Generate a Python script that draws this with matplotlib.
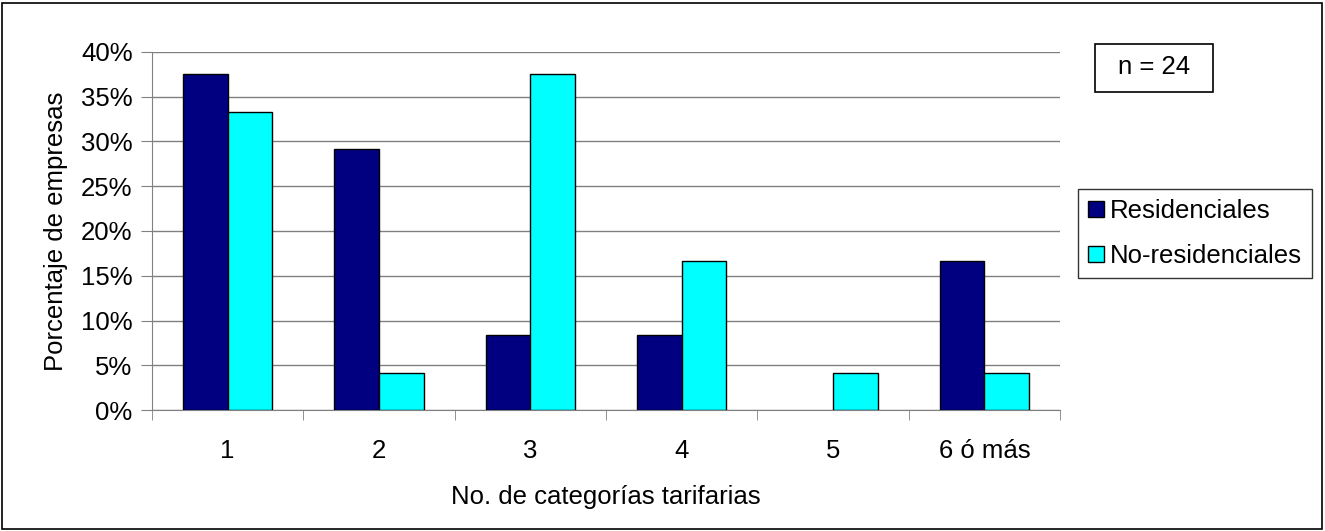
import matplotlib
matplotlib.use("Agg")
import matplotlib.pyplot as plt
from matplotlib.patches import Rectangle
import numpy as np

plt.rcParams['font.family'] = ['Liberation Sans', 'DejaVu Sans']

categories = ["1", "2", "3", "4", "5", "6 ó más"]
residenciales = [37.5, 29.17, 8.33, 8.33, 0.0, 16.67]
no_residenciales = [33.33, 4.17, 37.5, 16.67, 4.17, 4.17]
series_names = ["Residenciales", "No-residenciales"]
yticks = [0, 5, 10, 15, 20, 25, 30, 35, 40]

FS = 18.5
W, H = 1325, 531
fig = plt.figure(figsize=(W/100, H/100), dpi=100)
ax = fig.add_axes([152/W, 1-410/H, (1060-152)/W, (410-52)/H])

x = np.arange(len(categories))
bw = 0.295
b1 = ax.bar(x - bw/2, residenciales, bw, color="#000080", edgecolor="black", linewidth=1, label=series_names[0], zorder=3)
b2 = ax.bar(x + bw/2, no_residenciales, bw, color="#00FFFF", edgecolor="black", linewidth=1, label=series_names[1], zorder=3)
for bars in (b1, b2):
    for r in bars:
        if r.get_height() == 0:
            r.set_linewidth(0)

ax.set_xlim(-0.5, len(categories) - 0.5)
ax.set_ylim(0, 40)
ax.set_yticks(yticks)
ax.set_yticklabels([f"{v}%" for v in yticks], fontsize=FS)
ax.yaxis.grid(True, color="#808080", linewidth=1, zorder=0)
ax.set_xticks(x)
ax.set_xticklabels(categories, fontsize=FS)
ax.set_xticks(np.arange(-0.5, len(categories)), minor=True)
ax.tick_params(axis='x', which='major', length=0, pad=21)
ax.tick_params(axis='x', which='minor', length=7, color="#808080", direction='out')
ax.tick_params(axis='y', length=8, color="#808080", direction='out', pad=6)
for s in ["top", "right"]:
    ax.spines[s].set_visible(False)
for s in ["left", "bottom"]:
    ax.spines[s].set_color("#808080")

ax.set_ylabel("Porcentaje de empresas", fontsize=FS, labelpad=9)
ax.set_xlabel("No. de categorías tarifarias", fontsize=FS, labelpad=16)

leg = ax.legend(loc="upper left", bbox_to_anchor=(1078/W, 1-189/H), bbox_transform=fig.transFigure,
                fontsize=FS, frameon=True, fancybox=False, edgecolor="black",
                handlelength=0.6, handleheight=0.6, handletextpad=0.25, borderpad=0.4, labelspacing=0.8, borderaxespad=0)
leg.get_frame().set_linewidth(1)

fig.patches.append(Rectangle((1095/W, 1-92/H), (1213-1095)/W, (92-44)/H, transform=fig.transFigure,
                             fill=False, edgecolor="black", linewidth=1.2))
fig.text(1154/W, 1-67/H, "n = 24", fontsize=FS, ha="center", va="center")

fig.patches.append(Rectangle((2/W, 2/H), 1-5/W, 1-5/H, transform=fig.transFigure,
                             fill=False, edgecolor="black", linewidth=1.2))

fig.savefig("out.png", dpi=100)
